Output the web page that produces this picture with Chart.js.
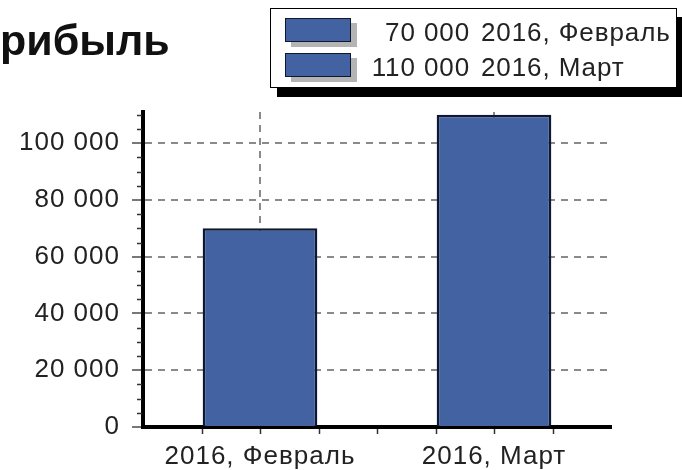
<!DOCTYPE html>
<html>
<head>
<meta charset="utf-8">
<script src="https://cdn.jsdelivr.net/npm/chart.js@4/dist/chart.umd.min.js"></script>
<style>
  body { margin: 0; background: #fff; font-family: "Liberation Sans", Arial, sans-serif; }
  #wrap { position: relative; width: 682px; height: 470px; overflow: hidden; }
  #chart { position: absolute; left: 0; top: 0; }
  #title { position: absolute; left: 0; top: 19px; font-size: 43px; font-weight: bold; line-height: 43px; color: #111; }
  #legend { position: absolute; left: 270px; top: 8px; width: 405px; height: 78px;
            border: 1.5px solid #000; background: #fff; box-shadow: 7px 9px 0 #000; }
  .sw { position: absolute; width: 64px; height: 22px; border: 1.5px solid #101830;
        box-shadow: 6px 5px 0 #b4b4b4; }
  .num, .lab { position: absolute; font-size: 26px; line-height: 26px; color: #222;
               white-space: nowrap; letter-spacing: 0.9px; }
  .num { text-align: right; width: 110px; }
</style>
</head>
<body>
<div id="wrap">
  <canvas id="chart" width="682" height="470"></canvas>
  <div id="title"></div>
  <div id="legend"></div>
</div>
<script>
const titleText = 'рибыль';
const categories = ['2016, Февраль', '2016, Март'];
const profit = [70000, 110000];
const yTicks = [0, 20000, 40000, 60000, 80000, 100000];
const barColor = '#4262a1';

function fmt(v) {
  return String(v).replace(/\B(?=(\d{3})+(?!\d))/g, ' ');
}

document.getElementById('title').textContent = titleText;

// legend built from the same arrays
const legend = document.getElementById('legend');
categories.forEach((c, i) => {
  const top = 9 + i * 35;
  const sw = document.createElement('div');
  sw.className = 'sw';
  sw.style.left = '14px';
  sw.style.top = top + 'px';
  sw.style.background = barColor;
  legend.appendChild(sw);
  const num = document.createElement('div');
  num.className = 'num';
  num.style.left = '89px';
  num.style.top = (top + 1) + 'px';
  num.textContent = fmt(profit[i]);
  legend.appendChild(num);
  const lab = document.createElement('div');
  lab.className = 'lab';
  lab.style.left = '210px';
  lab.style.top = (top + 1) + 'px';
  lab.textContent = c;
  legend.appendChild(lab);
});

// wider glyph spacing like the original bitmap font
const spacing = {
  id: 'spacing',
  beforeUpdate(chart) { chart.ctx.letterSpacing = '1px'; },
  beforeDraw(chart) { chart.ctx.letterSpacing = '1px'; }
};

// small tick marks along both axes
const minorTicks = {
  id: 'minorTicks',
  afterDraw(chart) {
    const ctx = chart.ctx;
    const y = chart.scales.y, x = chart.scales.x;
    const area = chart.chartArea;
    ctx.save();
    ctx.strokeStyle = '#333';
    ctx.lineWidth = 1.5;
    for (let v = 5000; v <= y.max; v += 5000) {
      if (v % 20000 === 0) continue;
      const py = Math.round(y.getPixelForValue(v)) + 0.5;
      ctx.beginPath();
      ctx.moveTo(area.left - 6, py);
      ctx.lineTo(area.left - 1, py);
      ctx.stroke();
    }
    for (let k = -0.25; k <= 1.25; k += 0.25) {
      const px = Math.round(x.getPixelForValue(k)) + 0.5;
      ctx.beginPath();
      ctx.moveTo(px, area.bottom + 2);
      ctx.lineTo(px, area.bottom + 7);
      ctx.stroke();
    }
    ctx.restore();
  }
};

new Chart(document.getElementById('chart').getContext('2d'), {
  type: 'bar',
  data: {
    labels: categories,
    datasets: [{
      data: profit,
      backgroundColor: barColor,
      borderColor: '#101830',
      borderWidth: 2.5,
      barPercentage: 0.49,
      categoryPercentage: 1
    }]
  },
  options: {
    responsive: false,
    animation: false,
    layout: { padding: { top: 112, right: 71, left: 0, bottom: 0 } },
    plugins: { legend: { display: false }, tooltip: { enabled: false } },
    scales: {
      x: {
        afterFit: (s) => { s.height = 43; },
        grid: {
          offset: false,
          drawTicks: false,
          color: '#8a8a8a',
          lineWidth: 2
        },
        border: { display: true, color: '#000', width: 4, dash: [7, 6] },
        ticks: {
          color: '#222',
          padding: 14,
          maxRotation: 0,
          font: { family: '"Liberation Sans", Arial, sans-serif', size: 26 }
        }
      },
      y: {
        min: 0,
        max: 111000,
        afterFit: (s) => { s.width = 143; },
        afterBuildTicks: (s) => { s.ticks = yTicks.map(v => ({ value: v })); },
        grid: {
          color: (c) => (c.tick && c.tick.value === 0) ? 'rgba(0,0,0,0)' : '#8a8a8a',
          lineWidth: 2,
          tickLength: 11,
          tickColor: '#777',
          tickWidth: 2
        },
        border: { display: true, color: '#000', width: 4, dash: [7, 6] },
        ticks: {
          color: '#222',
          padding: 12,
          callback: (v) => fmt(v),
          font: { family: '"Liberation Sans", Arial, sans-serif', size: 26 }
        }
      }
    }
  },
  plugins: [spacing, minorTicks]
});
</script>
</body>
</html>
